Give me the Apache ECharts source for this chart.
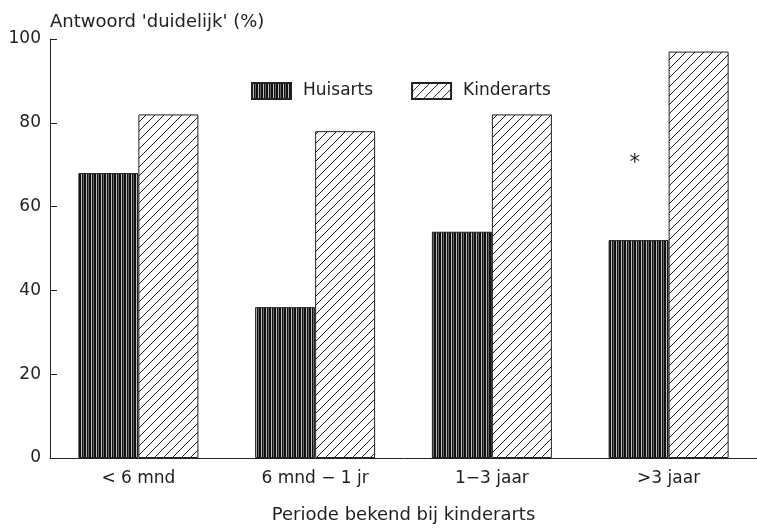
<!DOCTYPE html>
<html>
<head>
<meta charset="utf-8">
<script src="https://cdn.jsdelivr.net/npm/echarts@6/dist/echarts.min.js"></script>
<style>html,body{margin:0;padding:0;background:#fff}#c{width:757px;height:529px}</style>
</head>
<body>
<div id="c"></div>
<script>
const categories = ['< 6 mnd', '6 mnd \u2212 1 jr', '1\u22123 jaar', '>3 jaar'];
const huisarts = [68, 36, 54, 52];
const kinderarts = [82, 78, 82, 97];
const yTicks = [0, 20, 40, 60, 80, 100];
const seriesNames = ['Huisarts', 'Kinderarts'];
const markIndex = 3; // asterisk above Huisarts '>3 jaar'

function vertPattern() {
  const c = document.createElement('canvas');
  c.width = 5; c.height = 10;
  const g = c.getContext('2d');
  g.fillStyle = '#111'; g.fillRect(0, 0, 5, 10);
  g.fillStyle = '#c0c0c0'; g.fillRect(1, 0, 1, 10);
  g.fillStyle = '#666'; g.fillRect(3, 0, 1, 10);
  return c;
}
function diagPattern() {
  const s = 9;
  const c = document.createElement('canvas');
  c.width = s; c.height = s;
  const g = c.getContext('2d');
  g.fillStyle = '#fff'; g.fillRect(0, 0, s, s);
  g.strokeStyle = '#222'; g.lineWidth = 1;
  g.beginPath();
  g.moveTo(-1, s + 1); g.lineTo(s + 1, -1);
  g.moveTo(-1, 1); g.lineTo(1, -1);
  g.moveTo(s - 1, s + 1); g.lineTo(s + 1, s - 1);
  g.stroke();
  return c;
}

const font = 'DejaVu Sans';
const chart = echarts.init(document.getElementById('c'), null, {renderer: 'canvas'});
chart.setOption({
  animation: false,
  backgroundColor: '#fff',
  textStyle: {fontFamily: font, color: '#222'},
  legend: {
    left: 246, top: 77,
    itemWidth: 39, itemHeight: 16, itemGap: 38,
    icon: 'rect',
    textStyle: {fontFamily: font, fontSize: 17, color: '#222', padding: [0, 0, 0, 7]},
    data: seriesNames
  },
  grid: {left: 50, right: -5, top: 39, bottom: 59},
  xAxis: {
    type: 'category',
    data: categories,
    axisLine: {lineStyle: {color: '#222', width: 1}},
    axisTick: {show: false},
    axisLabel: {fontFamily: font, fontSize: 17, color: '#222', margin: 12},
    name: 'Periode bekend bij kinderarts',
    nameLocation: 'middle',
    nameGap: 48,
    nameTextStyle: {fontFamily: font, fontSize: 18, color: '#222'}
  },
  yAxis: {
    type: 'value',
    min: yTicks[0], max: yTicks[yTicks.length - 1], interval: 20,
    axisLine: {show: true, lineStyle: {color: '#222', width: 1}},
    axisTick: {show: true, inside: true, length: 7, lineStyle: {color: '#222'}},
    splitLine: {show: false},
    axisLabel: {fontFamily: font, fontSize: 17, color: '#222', margin: 9},
    name: "Antwoord 'duidelijk' (%)",
    nameLocation: 'end',
    nameGap: 8,
    nameTextStyle: {fontFamily: font, fontSize: 18, color: '#222', align: 'left'}
  },
  series: [
    {
      name: seriesNames[0], type: 'bar', barWidth: 60, barGap: '0%',
      itemStyle: {color: {image: vertPattern(), repeat: 'repeat'}, borderColor: '#222', borderWidth: 1},
      data: huisarts.map((v, i) => i === markIndex ? {
        value: v,
        label: {show: true, position: 'top', distance: 66, offset: [-4, 0], formatter: '*',
                fontFamily: font, fontSize: 21, color: '#222'}
      } : v)
    },
    {
      name: seriesNames[1], type: 'bar', barWidth: 60,
      itemStyle: {color: {image: diagPattern(), repeat: 'repeat'}, borderColor: '#222', borderWidth: 1},
      data: kinderarts
    }
  ]
});
</script>
</body>
</html>
